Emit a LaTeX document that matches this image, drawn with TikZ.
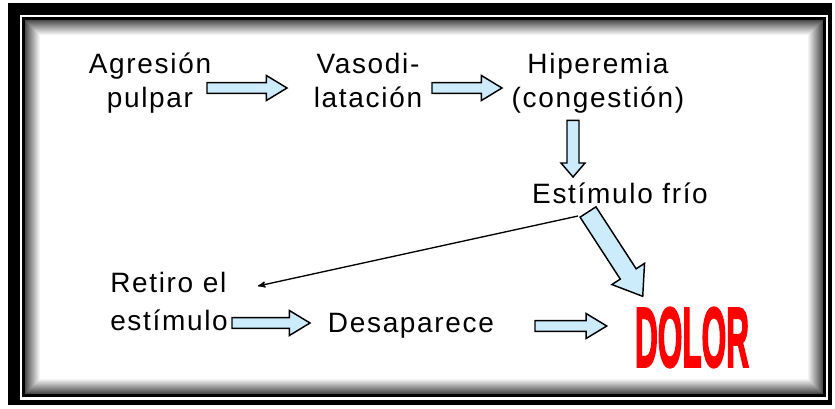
\documentclass[tikz,border=0pt]{standalone}
\usepackage{fontspec}
\setmainfont{Liberation Sans}[LetterSpace=6]
\newfontfamily\dolorfont{Liberation Sans Bold}[FakeBold=3]
\usepackage{graphicx}
\usetikzlibrary{arrows}
\usetikzlibrary{calc}
\definecolor{arrowblue}{RGB}{204,236,252}
\definecolor{dolorred}{RGB}{255,0,0}

% hollow block arrow: start, end, half shaft, half head, head length
\newcommand{\blockarrow}[5]{%
	\coordinate (ba_s) at #1;
	\coordinate (ba_e) at #2;
	\coordinate (ba_h) at ($(ba_e)!#5!(ba_s)$);
	\draw[block arrow] ($(ba_s)!#3!90:(ba_e)$) -- ($(ba_h)!#3!90:(ba_e)$) -- ($(ba_h)!#4!90:(ba_e)$)
		-- (ba_e) -- ($(ba_h)!#4!-90:(ba_e)$) -- ($(ba_h)!#3!-90:(ba_e)$) -- ($(ba_s)!#3!-90:(ba_e)$) -- cycle;
}

\begin{document}
\begin{tikzpicture}[x=0.75pt,y=-0.75pt,>=stealth',font=\fontsize{21}{25.5}\selectfont]
					\tikzstyle{txt}=[inner sep=0pt,align=center]
					\tikzstyle{block arrow}=[draw=black,line width=1.1pt,fill=arrowblue]
					\tikzstyle{thin arrow}=[->,draw=black,line width=1pt]
					
					\useasboundingbox (0,0) rectangle (835,408);
					
					% frame
					\fill[black] (8,3) rectangle (832,405);
					\fill[white] (20,15) rectangle (828,400);
					\fill[black] (22,17) rectangle (826,397);
					\foreach \i [evaluate=\i as \g using 70-14*\i/3] in {0,...,15}
						\fill[black!\g] (25+\i,20+\i) rectangle (823-\i,394-\i);
					
					\node[txt]                 (agr)   at (150,83)    {Agresión\\pulpar};
					\node[txt]                 (vaso)  at (368,80)    {Vasodi-\\latación};
					\node[txt]                 (hip)   at (598,83)    {Hiperemia\\(congestión)};
					\node[txt,anchor=base]     (est)   at (620,203)   {Estímulo frío};
					\node[txt,align=left,anchor=west] (ret) at (110,301) {Retiro el\\[3pt]estímulo};
					\node[txt,anchor=base]     (desa)  at (411,332)   {Desaparece};
					\node[inner sep=0pt,text=dolorred] (dolor) at (692,337.5) {\resizebox{85.5pt}{44.25pt}{\dolorfont DOLOR}};
					
					\blockarrow{($(agr)+(57,5)$)}{($(vaso)+(-81,8)$)}{4.1pt}{9.4pt}{15.5pt}
					\blockarrow{($(vaso)+(64,8)$)}{($(hip)+(-96,5)$)}{4.1pt}{9.4pt}{15.5pt}
					\blockarrow{($(hip.south)+(-25,7)$)}{($(est.base)+(-47,-26)$)}{4.5pt}{9pt}{10.5pt}
					\blockarrow{($(est.base)+(-32,9)$)}{($(dolor.north west)+(8,-11)$)}{7.1pt}{14.6pt}{20pt}
					\blockarrow{($(ret.west)+(122,22)$)}{($(desa.base)+(-101,-9)$)}{4.1pt}{9.4pt}{15.5pt}
					\blockarrow{($(desa.base)+(124,-6)$)}{($(dolor.west)+(-28,-11.5)$)}{4.1pt}{9.4pt}{15.5pt}
					
					\draw[thin arrow] ($(est.base)+(-42,13)$) -- ($(ret.west)+(148,-15)$);
					
					\end{tikzpicture}
\end{document}
